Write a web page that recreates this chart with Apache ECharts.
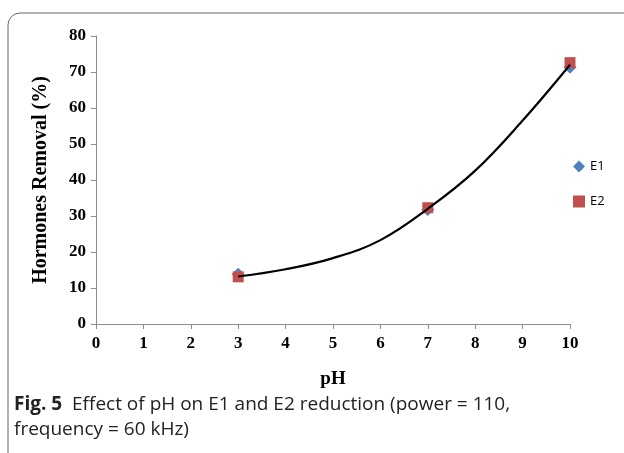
<!DOCTYPE html>
<html><head><meta charset="utf-8">
<script src="https://cdn.jsdelivr.net/npm/echarts@6/dist/echarts.min.js"></script>
<style>html,body{margin:0;padding:0;background:#fff}#c{width:624px;height:453px}</style>
</head><body><div id="c"></div>
<script>
const phValues = [3, 7, 10];
const e1Values = [13.8, 31.8, 71.3];
const e2Values = [13.1, 32.3, 72.6];
const trendPH = [3, 4, 5, 6, 7, 8, 9, 10];
const trendValues = [13.2, 15.2, 18.3, 23.3, 32.0, 42.6, 56.5, 72.0];
const xTicks = [0,1,2,3,4,5,6,7,8,9,10];
const yTicks = [0,10,20,30,40,50,60,70,80];

const chart = echarts.init(document.getElementById('c'));
const serif = '"Liberation Serif", "Times New Roman", serif';
const axisCommon = {
  axisLine: {show: true, lineStyle: {color: '#8c8c8c', width: 1}},
  axisTick: {show: true, inside: false, length: 5, lineStyle: {color: '#8c8c8c'}},
  splitLine: {show: false},
  axisLabel: {color: '#000', fontFamily: serif, fontWeight: 'bold', fontSize: 17}
};
chart.setOption({
  animation: false,
  backgroundColor: '#fff',
  grid: {left: 96, top: 36, right: 54, bottom: 129, containLabel: false},
  xAxis: Object.assign({}, axisCommon, {
    type: 'value', min: xTicks[0], max: xTicks[xTicks.length-1], interval: 1,
    name: 'pH', nameLocation: 'middle', nameGap: 46,
    nameTextStyle: {color: '#000', fontFamily: serif, fontWeight: 'bold', fontSize: 19},
    axisLabel: Object.assign({}, axisCommon.axisLabel, {margin: 11})
  }),
  yAxis: Object.assign({}, axisCommon, {
    type: 'value', min: yTicks[0], max: yTicks[yTicks.length-1], interval: 10,
    name: 'Hormones Removal (%)', nameLocation: 'middle', nameGap: 45,
    nameTextStyle: {color: '#000', fontFamily: serif, fontWeight: 'bold', fontSize: 20},
    axisLabel: Object.assign({}, axisCommon.axisLabel, {margin: 10})
  }),
  legend: {
    orient: 'vertical', left: 568, top: 155, itemGap: 22, itemWidth: 12, itemHeight: 12,
    textStyle: {fontFamily: '"Open Sans", sans-serif', fontSize: 13, color: '#000'},
    data: [{name: 'E1', icon: 'diamond'}, {name: 'E2', icon: 'rect'}]
  },
  series: [
    {name: 'E1', type: 'scatter', symbol: 'diamond', symbolSize: 13,
     itemStyle: {color: '#4f81bd', opacity: 1}, data: phValues.map((x,i)=>[x, e1Values[i]]), z: 2},
    {name: 'E2', type: 'scatter', symbol: 'rect', symbolSize: 11,
     itemStyle: {color: '#c0504d', opacity: 1}, data: phValues.map((x,i)=>[x, e2Values[i]]), z: 3},
    {name: 'trend', type: 'line', smooth: 0.4, showSymbol: false, symbol: 'none',
     lineStyle: {color: '#000', width: 2.2}, data: trendPH.map((x,i)=>[x, trendValues[i]]), z: 4}
  ],
  graphic: [
    {type: 'rect', shape: {x: 8, y: 13, width: 700, height: 520, r: 12},
     style: {fill: 'none', stroke: '#666', lineWidth: 1}, z: -1},
    {type: 'text', left: 14, top: 392, style: {
      text: '{b|Fig. 5}  Effect of pH on E1 and E2 reduction (power = 110,\nfrequency = 60 kHz)',
      font: '19px "Open Sans", sans-serif', fill: '#222', lineHeight: 25,
      rich: {b: {fontWeight: 'bold', fontSize: 19, fontFamily: '"Open Sans", sans-serif', fill: '#222'}}
    }}
  ]
});
</script></body></html>
